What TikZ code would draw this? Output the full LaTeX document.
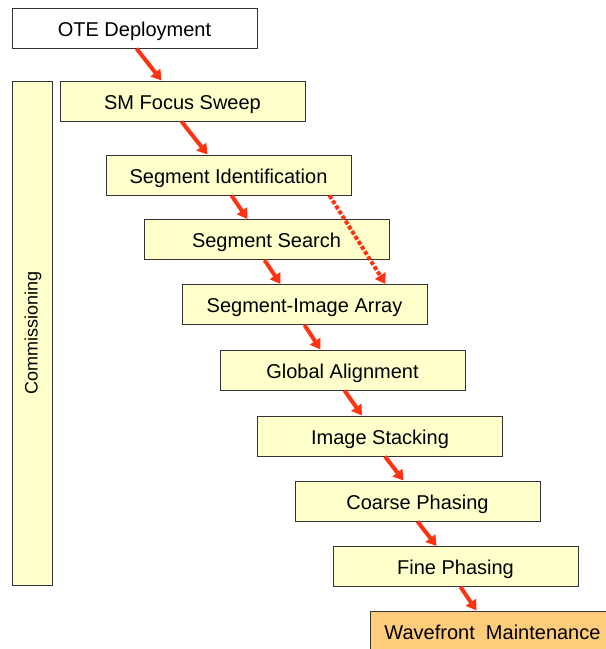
\documentclass[tikz,border=0pt]{standalone}
\usepackage{fontspec}
\setmainfont{Liberation Sans}
\usetikzlibrary{arrows.meta,calc}
\definecolor{boxfill}{HTML}{FFFFCC}
\definecolor{wmfill}{HTML}{FDCD7C}
\definecolor{arrred}{HTML}{FF3311}
\definecolor{boxline}{HTML}{333333}
\begin{document}
\begin{tikzpicture}[x=1pt,y=1pt,
  stepbox/.style={draw=boxline,line width=1pt,fill=boxfill,minimum width=245pt,minimum height=40pt,inner sep=0pt,text height=18pt,text depth=2pt,font=\fontsize{20}{23}\selectfont,text=black},
  flow/.style={draw=arrred,line width=4pt,-{Triangle[length=10pt,width=12pt]}},
  dflow/.style={draw=arrred,line width=4pt,dotted,-{Triangle[length=10pt,width=12pt]}}]
\useasboundingbox (0,0) rectangle (606,-649);
\begin{scope}
\clip (0,0) rectangle (606,-649);
\node[stepbox,fill=white] (ote) at (134.5,-28) {OTE Deployment};
\node[stepbox,minimum width=40pt,minimum height=504pt,text height=,text depth=] (com) at (32,-333) {};
\node[rotate=90,font=\fontsize{18}{21}\selectfont] (comt) at ([xshift=1pt]com.center) {Commissioning};
\node[stepbox] (sm) at (182.5,-101) {SM Focus Sweep};
\node[stepbox] (sid) at (228.5,-175) {Segment Identification};
\node[stepbox] (ss) at (266.5,-239.5) {Segment Search};
\node[stepbox] (sia) at (304.5,-304.5) {Segment-Image Array};
\node[stepbox] (ga) at (342.5,-370) {Global Alignment};
\node[stepbox] (is) at (380,-436) {Image Stacking};
\node[stepbox] (cp) at (417.5,-501) {Coarse Phasing};
\node[stepbox] (fp) at (455.5,-566.5) {Fine Phasing};
\node[stepbox,fill=wmfill] (wm) at (492.5,-631) {Wavefront\ \ Maintenance};
\draw[flow] ([xshift=125pt]ote.south west) -- ([xshift=102pt]sm.north west);
\draw[flow] ([xshift=122pt]sm.south west) -- ([xshift=102pt]sid.north west);
\draw[flow] ([xshift=126pt]sid.south west) -- ([xshift=104pt]ss.north west);
\draw[flow] ([xshift=121pt]ss.south west) -- ([xshift=99pt]sia.north west);
\draw[dflow] ([xshift=224pt]sid.south west) -- ([xshift=204pt]sia.north west);
\draw[flow] ([xshift=123pt]sia.south west) -- ([xshift=101pt]ga.north west);
\draw[flow] ([xshift=125pt]ga.south west) -- ([xshift=105pt]is.north west);
\draw[flow] ([xshift=128pt]is.south west) -- ([xshift=109pt]cp.north west);
\draw[flow] ([xshift=123pt]cp.south west) -- ([xshift=104pt]fp.north west);
\draw[flow] ([xshift=128pt]fp.south west) -- ([xshift=107pt]wm.north west);
\end{scope}
\end{tikzpicture}
\end{document}
